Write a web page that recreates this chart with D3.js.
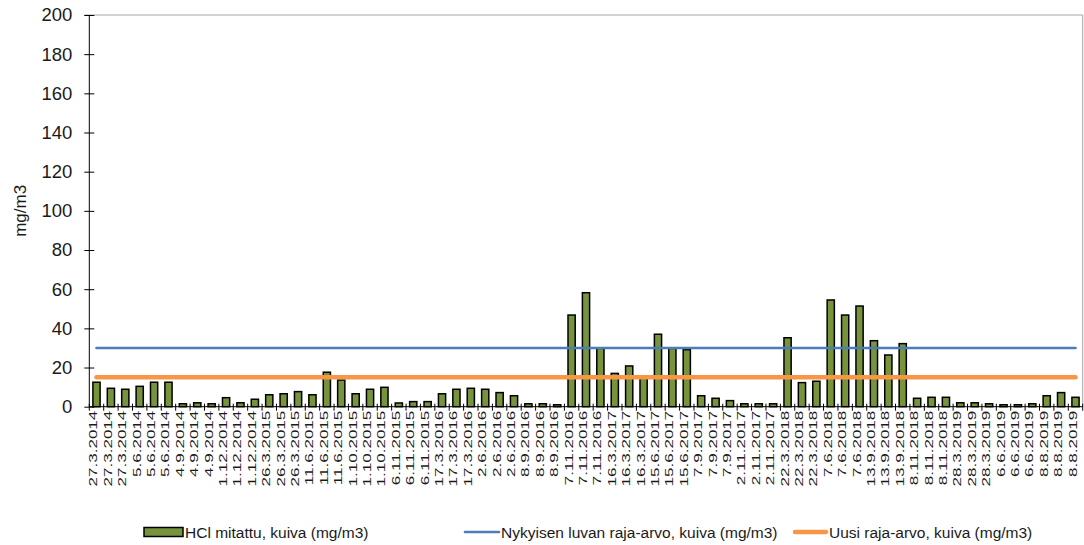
<!DOCTYPE html>
<html>
<head>
<meta charset="utf-8">
<script src="https://cdn.jsdelivr.net/npm/d3@7"></script>
<style>
  html, body { margin: 0; padding: 0; background: #fff; }
  svg { display: block; font-family: "Liberation Sans", Arial, sans-serif; }
</style>
</head>
<body>
<svg id="chart" width="1084" height="545"></svg>
<script>
// Sampling dates (three measurements per campaign)
const dates = [
  "27.3.2014","27.3.2014","27.3.2014","5.6.2014","5.6.2014","5.6.2014",
  "4.9.2014","4.9.2014","4.9.2014","1.12.2014","1.12.2014","1.12.2014",
  "26.3.2015","26.3.2015","26.3.2015","11.6.2015","11.6.2015","11.6.2015",
  "1.10.2015","1.10.2015","1.10.2015","6.11.2015","6.11.2015","6.11.2015",
  "17.3.2016","17.3.2016","17.3.2016","2.6.2016","2.6.2016","2.6.2016",
  "8.9.2016","8.9.2016","8.9.2016","7.11.2016","7.11.2016","7.11.2016",
  "16.3.2017","16.3.2017","16.3.2017","15.6.2017","15.6.2017","15.6.2017",
  "7.9.2017","7.9.2017","7.9.2017","2.11.2017","2.11.2017","2.11.2017",
  "22.3.2018","22.3.2018","22.3.2018","7.6.2018","7.6.2018","7.6.2018",
  "13.9.2018","13.9.2018","13.9.2018","8.11.2018","8.11.2018","8.11.2018",
  "28.3.2019","28.3.2019","28.3.2019","6.6.2019","6.6.2019","6.6.2019",
  "8.8.2019","8.8.2019","8.8.2019"
];

// Measured HCl, dry (mg/m3)
const hclMeasured = [
  12.5, 9.4, 8.9, 10.4, 12.5, 12.5,
  1.5, 2, 1.5, 4.6, 2, 3.8,
  6.1, 6.6, 7.7, 6.1, 17.6, 13.6,
  6.6, 8.9, 9.9, 1.9, 2.6, 2.6,
  6.6, 8.9, 9.4, 8.9, 7.2, 5.6,
  1.5, 1.5, 1, 46.8, 58.2, 29.8,
  17, 20.8, 14.5, 37, 29.8, 29.1,
  5.6, 4.3, 3.1, 1.5, 1.5, 1.5,
  35.2, 12.3, 13, 54.5, 46.8, 51.4,
  33.7, 26.4, 32.2, 4.3, 4.8, 4.8,
  2, 2, 1.5, 1, 1, 1.5,
  5.6, 7.2, 4.8
];

// Limit values (mg/m3)
const currentLimit = 30;
const newLimit = 15;

const yTicks = [0, 20, 40, 60, 80, 100, 120, 140, 160, 180, 200];

const legendLabels = [
  "HCl mitattu, kuiva (mg/m3)",
  "Nykyisen luvan raja-arvo, kuiva (mg/m3)",
  "Uusi raja-arvo, kuiva (mg/m3)"
];

const colors = { bar: "#77933C", current: "#4A7EBB", next: "#F79646" };

const svg = d3.select("#chart");
const plotLeft = 89.3, plotRight = 1082.7, plotTop = 15, plotBottom = 406.7;

const idx = dates.map((d, i) => i);
const x = d3.scaleBand().domain(idx).range([plotLeft, plotRight]).paddingInner(0.5).paddingOuter(0.25);
const xb = d3.scaleBand().domain(idx).range([plotLeft, plotRight]);
const y = d3.scaleLinear().domain([0, 200]).range([plotBottom, plotTop]);

// plot frame (top and right edges)
svg.append("line").attr("x1", plotLeft - 5).attr("x2", plotRight).attr("y1", plotTop).attr("y2", plotTop)
  .attr("stroke", "#A6A6A6").attr("stroke-width", 1);
svg.append("line").attr("x1", plotRight).attr("x2", plotRight).attr("y1", plotTop).attr("y2", plotBottom)
  .attr("stroke", "#A6A6A6").attr("stroke-width", 1);

// bars
svg.append("g").selectAll("rect").data(hclMeasured).join("rect")
  .attr("x", (d, i) => x(i))
  .attr("width", x.bandwidth())
  .attr("y", d => y(d))
  .attr("height", d => y(0) - y(d))
  .attr("fill", colors.bar)
  .attr("stroke", "#000")
  .attr("stroke-width", 1.5);

// limit lines, from first to last category centre
const cx = i => xb(i) + xb.bandwidth() / 2;
const lineGen = d3.line().x(d => cx(d[0])).y(d => y(d[1]));
svg.append("path")
  .attr("d", lineGen(idx.map(i => [i, currentLimit])))
  .attr("fill", "none").attr("stroke", colors.current).attr("stroke-width", 2.6)
  .attr("stroke-linecap", "round");
svg.append("path")
  .attr("d", lineGen(idx.map(i => [i, newLimit])))
  .attr("fill", "none").attr("stroke", colors.next).attr("stroke-width", 4.5)
  .attr("stroke-linecap", "round");

// y axis
const yAxis = svg.append("g").attr("transform", `translate(${plotLeft},0)`)
  .call(d3.axisLeft(y).tickValues(yTicks).tickSize(5).tickPadding(12));
yAxis.select(".domain").attr("stroke", "#000").attr("d", `M0,${plotTop}V${plotBottom}`);
yAxis.selectAll(".tick line").attr("x1", 5).attr("stroke", "#000");
yAxis.selectAll(".tick text").attr("font-size", 18.5).attr("fill", "#1a1a1a")
  .attr("font-family", "Liberation Sans, Arial, sans-serif");

// x axis
const xAxisG = svg.append("g");
xAxisG.append("line").attr("x1", plotLeft).attr("x2", plotRight).attr("y1", plotBottom).attr("y2", plotBottom)
  .attr("stroke", "#000").attr("stroke-width", 1);
xAxisG.selectAll("line.tk").data(d3.range(dates.length + 1)).join("line")
  .attr("class", "tk")
  .attr("x1", i => plotLeft + i * xb.step()).attr("x2", i => plotLeft + i * xb.step())
  .attr("y1", plotBottom - 3).attr("y2", plotBottom + 4)
  .attr("stroke", "#000").attr("stroke-width", 1);
xAxisG.selectAll("text").data(dates).join("text")
  .attr("transform", (d, i) => `translate(${cx(i) + 1},${plotBottom + 4}) rotate(-90) scale(1.55,1)`)
  .attr("text-anchor", "end")
  .attr("font-size", 11)
  .attr("fill", "#1a1a1a")
  .text(d => d);

// y axis title
svg.append("text")
  .attr("transform", `translate(26,${(plotTop + plotBottom) / 2}) rotate(-90)`)
  .attr("text-anchor", "middle")
  .attr("font-size", 17)
  .attr("fill", "#1a1a1a")
  .text("mg/m3");

// legend
const lg = svg.append("g").attr("font-size", 15.5).attr("fill", "#1a1a1a");
lg.append("rect").attr("x", 144).attr("y", 527.5).attr("width", 39).attr("height", 9)
  .attr("fill", colors.bar).attr("stroke", "#000").attr("stroke-width", 1.5);
lg.append("text").attr("x", 185).attr("y", 538).text(legendLabels[0]);
lg.append("line").attr("x1", 465).attr("x2", 499).attr("y1", 532).attr("y2", 532)
  .attr("stroke", colors.current).attr("stroke-width", 2.6).attr("stroke-linecap", "round");
lg.append("text").attr("x", 501).attr("y", 538).text(legendLabels[1]);
lg.append("line").attr("x1", 795).attr("x2", 826).attr("y1", 532).attr("y2", 532)
  .attr("stroke", colors.next).attr("stroke-width", 4.5).attr("stroke-linecap", "round");
lg.append("text").attr("x", 829).attr("y", 538).text(legendLabels[2]);
</script>
</body>
</html>
